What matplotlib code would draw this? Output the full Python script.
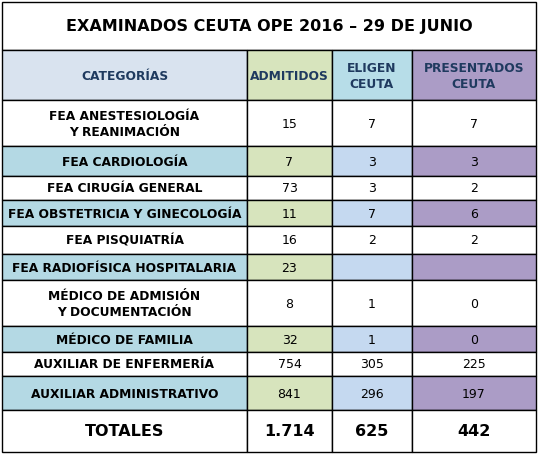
import matplotlib
matplotlib.use("Agg")
import matplotlib.pyplot as plt
from matplotlib.patches import Rectangle

title = "EXAMINADOS CEUTA OPE 2016 – 29 DE JUNIO"
headers = ["CATEGORÍAS", "ADMITIDOS", "ELIGEN\nCEUTA", "PRESENTADOS\nCEUTA"]
categories = ["FEA ANESTESIOLOGÍA\nY REANIMACIÓN", "FEA CARDIOLOGÍA", "FEA CIRUGÍA GENERAL",
              "FEA OBSTETRICIA Y GINECOLOGÍA", "FEA PISQUIATRÍA", "FEA RADIOFÍSICA HOSPITALARIA",
              "MÉDICO DE ADMISIÓN\nY DOCUMENTACIÓN", "MÉDICO DE FAMILIA",
              "AUXILIAR DE ENFERMERÍA", "AUXILIAR ADMINISTRATIVO"]
admitidos = ["15", "7", "73", "11", "16", "23", "8", "32", "754", "841"]
eligen = ["7", "3", "3", "7", "2", "", "1", "1", "305", "296"]
presentados = ["7", "3", "2", "6", "2", "", "0", "0", "225", "197"]
shaded = [False, True, False, True, False, True, False, True, False, True]
totals = ["TOTALES", "1.714", "625", "442"]

W, H = 538, 454
fig = plt.figure(figsize=(W/100, H/100), dpi=100)
ax = fig.add_axes([0, 0, 1, 1])
ax.set_xlim(0, W); ax.set_ylim(H, 0); ax.axis("off")

xs = [2, 247, 332, 412, 536]
row_y = [100, 146, 176, 200, 226, 254, 280, 326, 352, 376, 410]
hdr_col = ["#d9e3ef", "#d7e4bd", "#b7dde8", "#ab9cc6"]
sh_col = ["#b4d9e4", "#d7e4bd", "#c5d9f0", "#ab9cc6"]

def cell(x0, x1, y0, y1, fc, text, color="black", size=10, weight="bold"):
    ax.add_patch(Rectangle((x0, y0), x1-x0, y1-y0, facecolor=fc, edgecolor="black", lw=1))
    ax.text((x0+x1)/2, (y0+y1)/2 + 1, text, ha="center", va="center", fontsize=size,
            fontweight=weight, color=color, family="DejaVu Sans", linespacing=1.3)

cell(xs[0], xs[4], 2, 50, "white", title, size=11.5)
for j in range(4):
    cell(xs[j], xs[j+1], 50, 100, hdr_col[j], headers[j], color="#1f3a5f", size=8.8)
for i in range(len(categories)):
    y0, y1 = row_y[i], row_y[i+1]
    vals = [categories[i], admitidos[i], eligen[i], presentados[i]]
    for j in range(4):
        fc = sh_col[j] if shaded[i] else "white"
        cell(xs[j], xs[j+1], y0, y1, fc, vals[j], size=8.8 if j == 0 else 9,
             weight="bold" if j == 0 else "normal")
for j in range(4):
    cell(xs[j], xs[j+1], 410, 452, "white", totals[j], size=11.5)

fig.savefig("out.png", dpi=100)
